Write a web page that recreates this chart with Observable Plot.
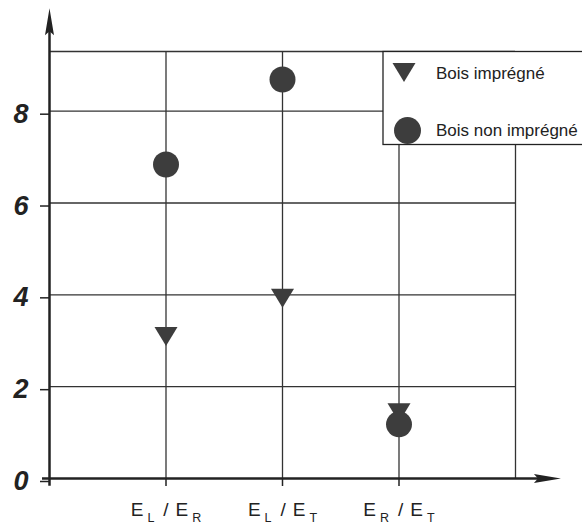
<!DOCTYPE html>
<html>
<head>
<meta charset="utf-8">
<script src="https://cdn.jsdelivr.net/npm/d3@7"></script>
<script src="https://cdn.jsdelivr.net/npm/@observablehq/plot@0.6"></script>
<style>
  html, body { margin: 0; padding: 0; background: #fff; }
</style>
</head>
<body>
<div id="chart"></div>
<script>
// ---- data ----
const categories = ["E_L / E_R", "E_L / E_T", "E_R / E_T"];
const impregne = [3.16, 3.99, 1.5];
const nonImpregne = [6.84, 8.69, 1.18];
const yTicks = [0, 2, 4, 6, 8];
const seriesNames = ["Bois imprégné", "Bois non imprégné"];

// ---- layout constants ----
const yTop = 9.3, yArrow = 10.24, xRight = 4, xArrow = 4.39;
const ink = "#222", gridInk = "#333", markFill = "#3d3d3d";
const font = "'Liberation Sans', Arial, Helvetica, sans-serif";

// custom symbols
const triDown = { draw(ctx) { ctx.moveTo(-11.5, -6.5); ctx.lineTo(11.5, -6.5); ctx.lineTo(0, 12.5); ctx.closePath(); } };
const headUp = { draw(ctx) { ctx.moveTo(0, 0); ctx.lineTo(4.5, 27); ctx.lineTo(0, 23); ctx.lineTo(-4.5, 27); ctx.closePath(); } };
const headRight = { draw(ctx) { ctx.moveTo(0, 0); ctx.lineTo(-27, 4.5); ctx.lineTo(-23, 0); ctx.lineTo(-27, -4.5); ctx.closePath(); } };

const rows = categories.map((c, i) => ({ pos: i + 1, cat: c, imp: impregne[i], non: nonImpregne[i] }));
const xPositions = categories.map((c, i) => i + 1);

const chart = Plot.plot({
  width: 582, height: 526,
  marginLeft: 49, marginRight: 67, marginTop: 51, marginBottom: 48,
  x: { domain: [0, xRight], axis: null },
  y: { domain: [0, yTop], axis: null },
  style: { fontFamily: font, color: ink, background: "#fff", overflow: "visible" },
  marks: [
    Plot.gridY({ ticks: [...yTicks.filter(d => d > 0), yTop], stroke: gridInk, strokeOpacity: 1, strokeWidth: 1.3 }),
    Plot.gridX({ ticks: [...xPositions, xRight], stroke: gridInk, strokeOpacity: 1, strokeWidth: 1.3 }),
    Plot.axisY({ ticks: yTicks, tickSize: 9, tickPadding: 12, tickFormat: d => String(d),
                 fontSize: 27, fontWeight: "bold", fontStyle: "italic", dy: 3, strokeWidth: 1.5 }),
    Plot.axisX({ ticks: xPositions, tickSize: 8, tickPadding: 16, tickFormat: d => categories[d - 1],
                 fontSize: 19, strokeWidth: 1.5 }),
    Plot.ruleX([0], { y1: -0.17, y2: yArrow - 0.3, stroke: ink, strokeWidth: 2.5 }),
    Plot.ruleY([0], { x1: -0.06, x2: xArrow - 0.1, stroke: ink, strokeWidth: 2.5 }),
    Plot.dot([{ x: 0, y: yArrow }], { x: "x", y: "y", symbol: headUp, fill: ink, stroke: null, r: 5 }),
    Plot.dot([{ x: xArrow, y: 0 }], { x: "x", y: "y", symbol: headRight, fill: ink, stroke: null, r: 5 }),
    Plot.dot(rows, { x: "pos", y: "imp", symbol: triDown, fill: markFill, stroke: null, r: 8 }),
    Plot.dot(rows, { x: "pos", y: "non", symbol: "circle", r: 13, fill: markFill, stroke: null })
  ]
});

document.getElementById("chart").appendChild(chart);
const svg = d3.select(chart);

// y tick labels: bold italic
svg.selectAll('g[aria-label="y-axis tick label"]')
  .attr("font-style", "italic").attr("font-weight", "bold").attr("font-size", 27);

// x tick labels with subscripts
svg.selectAll('g[aria-label="x-axis tick label"] text').each(function () {
  const s = this.textContent;
  const t = d3.select(this);
  t.text(null).attr("font-size", 19).attr("fill", ink);
  const parts = s.split(" / ").map(p => p.split("_"));
  parts.forEach((p, k) => {
    if (k > 0) t.append("tspan").attr("dx", 9).attr("dy", -6).text("/");
    t.append("tspan").attr("dx", k > 0 ? 7 : 0).text(p[0]);
    t.append("tspan").attr("font-size", 12.5).attr("dx", 4).attr("dy", 6).text(p[1]);
  });
});

// legend inside the plot (top-right)
const lg = svg.append("g").attr("aria-label", "legend").attr("text-anchor", "start");
lg.append("rect").attr("x", 383).attr("y", 51.5).attr("width", 220).attr("height", 93)
  .attr("fill", "#fff").attr("stroke", ink).attr("stroke-width", 1.3);
const p = d3.path(); triDown.draw(p);
lg.append("path").attr("d", p.toString()).attr("transform", "translate(404,69.5)").attr("fill", markFill);
lg.append("circle").attr("cx", 407.5).attr("cy", 130.5).attr("r", 13.5).attr("fill", markFill);
lg.append("text").attr("x", 436).attr("y", 79).attr("font-size", 17).attr("text-anchor", "start").attr("fill", ink).text(seriesNames[0]);
lg.append("text").attr("x", 436).attr("y", 136).attr("font-size", 17).attr("text-anchor", "start").attr("fill", ink).text(seriesNames[1]);
</script>
</body>
</html>
